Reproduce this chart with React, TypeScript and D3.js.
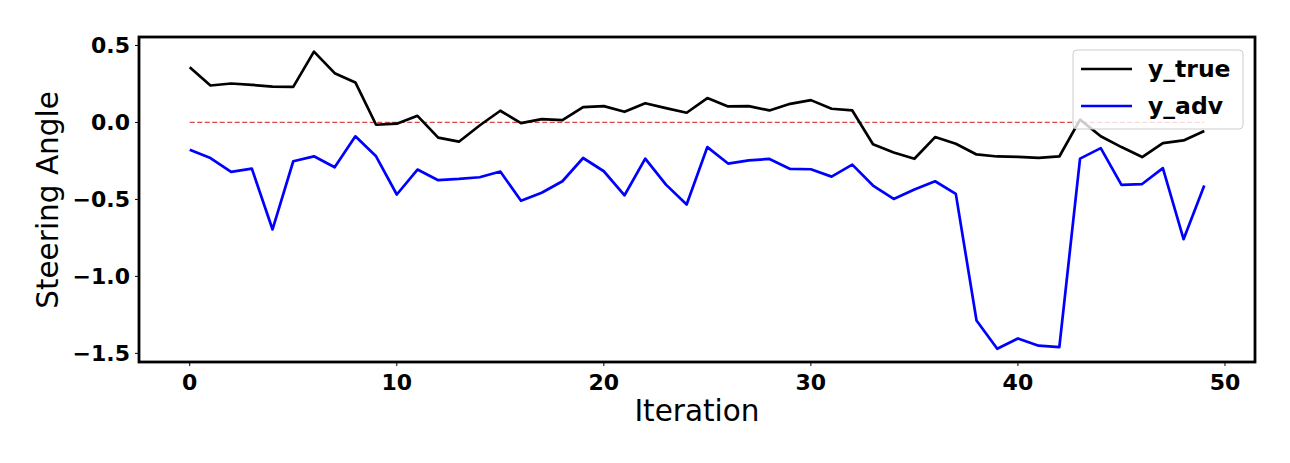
import React from "react";
import * as d3 from "d3";

const iterations: number[] = Array.from({ length: 50 }, (_, i) => i);

const yTrue: number[] = [
  0.359, 0.24, 0.253, 0.244, 0.233, 0.231, 0.46, 0.32, 0.26, -0.015,
  -0.008, 0.043, -0.099, -0.125, -0.02, 0.076, -0.004, 0.022, 0.015, 0.1,
  0.106, 0.069, 0.125, 0.093, 0.063, 0.158, 0.104, 0.106, 0.078, 0.121,
  0.145, 0.089, 0.078, -0.142, -0.195, -0.236, -0.095, -0.138, -0.208, -0.221,
  -0.223, -0.23, -0.221, 0.018, -0.09, -0.16, -0.225, -0.134, -0.117, -0.056,
];

const yAdv: number[] = [
  -0.177, -0.231, -0.321, -0.3, -0.695, -0.252, -0.22, -0.291, -0.09, -0.22,
  -0.468, -0.306, -0.375, -0.367, -0.356, -0.319, -0.509, -0.457, -0.382, -0.231,
  -0.317, -0.473, -0.235, -0.404, -0.533, -0.16, -0.267, -0.246, -0.237, -0.302,
  -0.304, -0.352, -0.274, -0.41, -0.497, -0.436, -0.382, -0.464, -1.286, -1.47,
  -1.403, -1.45, -1.46, -0.235, -0.167, -0.406, -0.4, -0.297, -0.758, -0.41,
];

const xTicks: number[] = [0, 10, 20, 30, 40, 50];
const yTicks: number[] = [0.5, 0.0, -0.5, -1.0, -1.5];
const seriesNames: string[] = ["y_true", "y_adv"];

const W = 1290;
const H = 463;
const left = 139;
const right = 1255;
const top = 37;
const bottom = 362;

export default function App() {
  const x = d3.scaleLinear().domain([-2.45, 51.45]).range([left, right]);
  const y = d3.scaleLinear().domain([0.555, -1.556]).range([top, bottom]);
  const line = d3
    .line<number>()
    .x((_, i) => x(iterations[i]))
    .y((d) => y(d));
  const fmtY = d3.format(".1f");
  const font = "DejaVu Sans, sans-serif";
  const legX = 1073;
  const legY = 50;
  return (
    <div style={{ position: "absolute", left: 0, top: 0 }}>
      <svg width={W} height={H} style={{ display: "block", background: "#fff" }}>
        <line
          x1={x(0)}
          x2={x(49)}
          y1={y(0)}
          y2={y(0)}
          stroke="#d62728"
          strokeWidth={1.2}
          strokeDasharray="5,2.5"
          opacity={0.85}
        />
        <path d={line(yTrue) || ""} fill="none" stroke="#000" strokeWidth={2.7} strokeLinejoin="round" />
        <path d={line(yAdv) || ""} fill="none" stroke="#0000ff" strokeWidth={2.7} strokeLinejoin="round" />
        <rect x={left} y={top} width={right - left} height={bottom - top} fill="none" stroke="#000" strokeWidth={2.8} />
        {xTicks.map((t) => (
          <g key={"x" + t}>
            <line x1={x(t)} x2={x(t)} y1={bottom} y2={bottom + 4} stroke="#000" strokeWidth={1} />
            <text x={x(t)} y={390} textAnchor="middle" fontFamily={font} fontWeight="bold" fontSize={22}>
              {t}
            </text>
          </g>
        ))}
        {yTicks.map((t) => (
          <g key={"y" + t}>
            <line x1={left - 4} x2={left} y1={y(t)} y2={y(t)} stroke="#000" strokeWidth={1} />
            <text
              x={130}
              y={y(t)}
              dy="0.36em"
              textAnchor="end"
              fontFamily={font}
              fontWeight="bold"
              fontSize={22}
            >
              {fmtY(t)}
            </text>
          </g>
        ))}
        <text x={697} y={421} textAnchor="middle" fontFamily={font} fontSize={29.5}>
          Iteration
        </text>
        <text
          transform={`translate(58,200) rotate(-90)`}
          textAnchor="middle"
          fontFamily={font}
          fontSize={29.5}
        >
          Steering Angle
        </text>
        <g>
          <rect
            x={legX}
            y={legY}
            width={170}
            height={79}
            rx={4}
            fill="#fff"
            fillOpacity={0.8}
            stroke="#ccc"
            strokeWidth={1}
          />
          {seriesNames.map((name, i) => (
            <g key={name}>
              <line
                x1={legX + 8}
                x2={legX + 59}
                y1={legY + 19 + i * 37}
                y2={legY + 19 + i * 37}
                stroke={i === 0 ? "#000" : "#0000ff"}
                strokeWidth={2.7}
              />
              <text
                x={legX + 75}
                y={legY + 19 + i * 37}
                dy="0.36em"
                fontFamily={font}
                fontWeight="bold"
                fontSize={23.5}
              >
                {name}
              </text>
            </g>
          ))}
        </g>
      </svg>
    </div>
  );
}
